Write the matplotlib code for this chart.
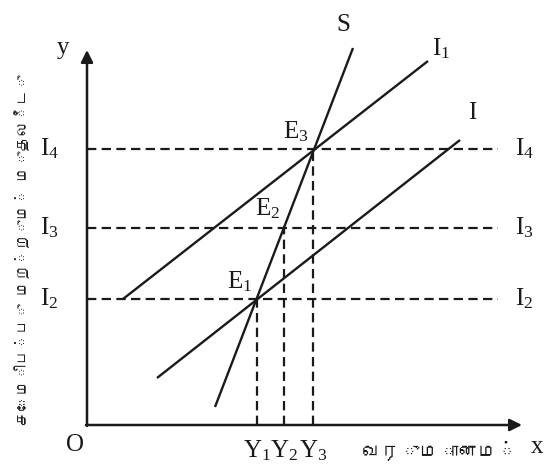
import matplotlib
matplotlib.use("Agg")
import matplotlib.pyplot as plt
from matplotlib import font_manager

# find a font that has Tamil glyphs (fall back to DejaVu Sans)
def tamil_font():
    try:
        from fontTools.ttLib import TTFont
    except ImportError:
        return "DejaVu Sans"
    for f in font_manager.findSystemFonts():
        try:
            cmap = TTFont(f, fontNumber=0, lazy=True).getBestCmap()
        except Exception:
            continue
        if cmap and 0x0BAE in cmap:
            return font_manager.FontProperties(fname=f).get_name()
    return "DejaVu Sans"

TAMIL = tamil_font()
SERIF = "Liberation Serif"
plt.rcParams["mathtext.fontset"] = "custom"
plt.rcParams["mathtext.rm"] = SERIF

# income levels (x) and investment levels (y)
y_levels = [17.0, 19.7, 22.6]          # Y1, Y2, Y3
y_names = ["Y_1", "Y_2", "Y_3"]
i_levels = [12.6, 19.7, 27.6]          # I2, I3, I4
i_names = ["I_2", "I_3", "I_4"]

# schedules (start / end points)
s_x = [12.8, 26.6]
s_y = [1.8, 37.7]
inv_x = [7.0, 37.3]      # I
inv_y = [4.7, 28.5]
inv1_x = [3.6, 34.1]     # I1
inv1_y = [12.6, 36.4]

x_max, y_max = 43.5, 37.5
dash_end = 41.1

fig = plt.figure(figsize=(5.47, 4.67), dpi=100)
ax = fig.add_axes([0, 0, 1, 1])
ax.set_xlim(-8.7, 46.0)
ax.set_ylim(-4.2, 42.5)
ax.axis("off")

ink = "#1a1a1a"

# axes with arrows
arr = dict(arrowstyle="-|>", lw=1.8, color=ink, mutation_scale=18,
           shrinkA=0, shrinkB=0)
ax.annotate("", xy=(x_max, 0), xytext=(-0.1, 0), arrowprops=arr)
ax.annotate("", xy=(0, y_max), xytext=(0, -0.1), arrowprops=arr)

# dashed guide lines
dash = dict(color=ink, lw=1.6, ls=(0, (4.2, 2.4)))
for lv in i_levels:
    ax.plot([0, dash_end], [lv, lv], **dash)
for yv, lv in zip(y_levels, i_levels):
    ax.plot([yv, yv], [0, lv], **dash)

# schedules
for xs, ys in [(s_x, s_y), (inv_x, inv_y), (inv1_x, inv1_y)]:
    ax.plot(xs, ys, color=ink, lw=1.7, solid_capstyle="butt")

fs = 18
txt = dict(fontfamily=SERIF, fontsize=fs, color=ink)
for lv, nm in zip(i_levels, i_names):
    ax.text(-4.7, lv, r"$\mathregular{%s}$" % nm, ha="left", va="center", **txt)
    ax.text(42.8, lv, r"$\mathregular{%s}$" % nm, ha="left", va="center", **txt)
for yv, nm in zip(y_levels, y_names):
    ax.text(yv, -2.6, r"$\mathregular{%s}$" % nm, ha="center", va="center", **txt)

ax.text(-2.4, 37.7, "y", ha="center", va="center", **txt)
ax.text(-1.2, -2.0, "O", ha="center", va="center", **txt)
ax.text(45.0, -2.2, "x", ha="center", va="center", **txt)
ax.text(25.6, 40.0, "S", ha="center", va="center", **txt)
ax.text(34.5, 37.6, r"$\mathregular{I_1}$", ha="left", va="center", **txt)
ax.text(38.5, 31.2, "I", ha="center", va="center", **txt)
ax.text(19.6, 29.3, r"$\mathregular{E_3}$", ha="left", va="center", **txt)
ax.text(16.8, 21.6, r"$\mathregular{E_2}$", ha="left", va="center", **txt)
ax.text(14.0, 14.3, r"$\mathregular{E_1}$", ha="left", va="center", **txt)

ax.text(35.3, -2.5, "வருமானம்", ha="center", va="center",
        fontfamily=[TAMIL, "DejaVu Sans"], fontsize=14, color=ink)
ax.text(-6.5, 17.5, "சேமிப்பு மற்றும் முதலீடு", ha="center", va="center",
        rotation=90, fontfamily=[TAMIL, "DejaVu Sans"], fontsize=11,
        color=ink)

fig.savefig("out.png", dpi=100, facecolor="white")
